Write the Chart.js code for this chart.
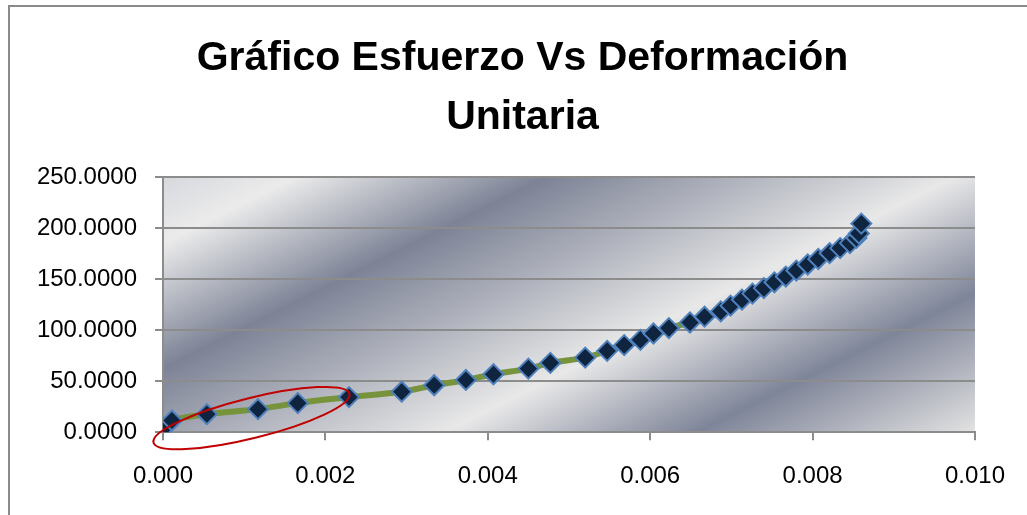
<!DOCTYPE html>
<html>
<head>
<meta charset="utf-8">
<script src="https://cdn.jsdelivr.net/npm/chart.js@4"></script>
<style>
  html, body { margin: 0; padding: 0; background: #ffffff; overflow: hidden; }
  #frame { position: absolute; left: 8px; top: 5px; width: 1100px; height: 600px;
           border-left: 2px solid #8a8a8a; border-top: 2px solid #8a8a8a; }
  #wrap { position: absolute; left: 0; top: 0; width: 1027px; height: 515px; }
</style>
</head>
<body>
<div id="frame"></div>
<div id="wrap"><canvas id="stressChart" width="1027" height="515"></canvas></div>
<script>
// Deformación unitaria (x) y esfuerzo (y)
const strain = [0.00001, 0.00011, 0.00054, 0.00117, 0.00166, 0.00229, 0.00294, 0.00334, 0.00373,
                0.00407, 0.00450, 0.00477, 0.00520, 0.00547, 0.00568, 0.00588, 0.00604, 0.00623,
                0.00649, 0.00667, 0.00687, 0.00699, 0.00713, 0.00726, 0.00740, 0.00753, 0.00767,
                0.00780, 0.00794, 0.00807, 0.00821, 0.00834, 0.00846, 0.00854, 0.00857, 0.00860];
const stress = [4.0, 11.5, 17.7, 22.6, 28.5, 34.4, 39.7, 46.0, 51.2,
                56.8, 62.3, 67.9, 73.1, 79.7, 85.3, 90.5, 96.7, 102.0,
                107.5, 113.2, 118.4, 124.0, 129.9, 135.8, 141.2, 146.9, 152.5,
                158.4, 164.3, 169.7, 175.4, 180.4, 185.3, 190.4, 194.8, 204.4];
const xTickValues = [0, 0.002, 0.004, 0.006, 0.008, 0.010];
const yTickValues = [0, 50, 100, 150, 200, 250];
const titleLines = ['Gráfico Esfuerzo Vs Deformación', 'Unitaria'];

const points = strain.map((x, i) => ({ x: x, y: stress[i] }));
const gridGray = '#8c8c8c';
const tickFont = { family: 'Liberation Sans', size: 24 };

// fondo degradado del área de trazado (bandas diagonales)
const plotBackground = {
    id: 'plotBackground',
    beforeDraw(chart) {
        const a = chart.chartArea;
        const ctx = chart.ctx;
        const nx = 0.447, ny = 0.894;
        const len = nx * (a.right - a.left) + ny * (a.bottom - a.top);
        const g = ctx.createLinearGradient(a.left, a.top, a.left + nx * len, a.top + ny * len);
        g.addColorStop(0, '#d6d8dd');
        g.addColorStop(0.10, '#ebebeb');
        g.addColorStop(0.29, '#7d8396');
        g.addColorStop(0.60, '#e8e8e8');
        g.addColorStop(0.79, '#7f8599');
        g.addColorStop(1, '#e2e2e2');
        ctx.save();
        ctx.fillStyle = g;
        ctx.fillRect(a.left, a.top, a.right - a.left, a.bottom - a.top);
        ctx.restore();
    }
};

// el título de Excel va centrado en todo el marco, un poco más a la derecha
const titleShift = {
    id: 'titleShift',
    afterLayout(chart) {
        const t = chart.titleBlock;
        if (t) { t.left += 15; t.right += 15; }
    }
};

// elipse roja dibujada a mano sobre los primeros puntos
const redEllipse = {
    id: 'redEllipse',
    afterDraw(chart) {
        const ctx = chart.ctx;
        const cx = chart.scales.x.getPixelForValue(0.00109);
        const cy = chart.scales.y.getPixelForValue(13.8);
        ctx.save();
        ctx.strokeStyle = '#c00000';
        ctx.lineWidth = 2;
        ctx.beginPath();
        ctx.ellipse(cx, cy, 101, 20, -14 * Math.PI / 180, 0, Math.PI * 2);
        ctx.stroke();
        ctx.restore();
    }
};

new Chart(document.getElementById('stressChart').getContext('2d'), {
    type: 'scatter',
    data: {
        datasets: [{
            data: points,
            showLine: true,
            borderColor: '#77933c',
            borderWidth: 6,
            tension: 0.3,
            pointStyle: 'rectRot',
            pointRadius: 10,
            pointBackgroundColor: '#0f243e',
            pointBorderColor: '#4f81bd',
            pointBorderWidth: 2
        }]
    },
    options: {
        responsive: false,
        animation: false,
        layout: { padding: { left: 37, right: 49, top: 0, bottom: 2 } },
        plugins: {
            legend: { display: false },
            tooltip: { enabled: false },
            title: {
                display: true,
                text: titleLines,
                color: '#000000',
                font: { family: 'Liberation Sans', size: 41, weight: 'bold', lineHeight: 1.44 },
                padding: { top: 29, bottom: 30 }
            }
        },
        scales: {
            x: {
                type: 'linear',
                min: 0,
                max: 0.010,
                afterBuildTicks: s => { s.ticks = xTickValues.map(v => ({ value: v })); },
                ticks: { color: '#000000', font: tickFont, padding: 22, maxRotation: 0,
                         callback: v => v.toFixed(3) },
                grid: { drawOnChartArea: false, drawTicks: true, tickLength: 8, color: gridGray, lineWidth: 2 },
                border: { color: gridGray, width: 2 }
            },
            y: {
                min: 0,
                max: 250,
                afterBuildTicks: s => { s.ticks = yTickValues.map(v => ({ value: v })); },
                afterFit: s => { s.width = 126; },
                ticks: { color: '#000000', font: tickFont, padding: 18,
                         callback: v => v.toFixed(4) },
                grid: { color: gridGray, lineWidth: 2, tickLength: 8 },
                border: { color: gridGray, width: 2 }
            }
        }
    },
    plugins: [plotBackground, titleShift, redEllipse]
});
</script>
</body>
</html>
